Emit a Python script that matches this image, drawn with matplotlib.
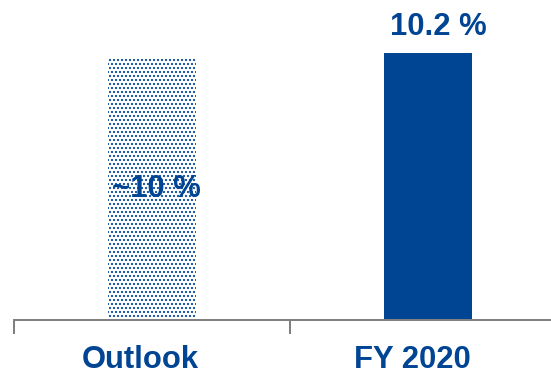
import matplotlib
matplotlib.use("Agg")
import matplotlib.pyplot as plt

# Data
categories = ["Outlook", "FY 2020"]
values = [10.0, 10.2]
value_labels = ["~10 %", "10.2 %"]

BLUE = "#004494"
GREY = "#808080"

plt.rcParams["font.family"] = ["Liberation Sans", "DejaVu Sans"]
plt.rcParams["hatch.linewidth"] = 1.4
plt.rcParams["hatch.color"] = BLUE

DPI = 72
W, H = 551, 378
fig = plt.figure(figsize=(W / DPI, H / DPI), dpi=DPI)
ax = fig.add_axes([14 / W, 58 / H, (W - 14) / W, 320 / H])

x = list(range(len(categories)))
bar_w = 0.32

# Outlook bar: dotted fill; FY 2020 bar: solid fill
ax.bar(x[0], values[0], width=bar_w, facecolor="white", edgecolor=BLUE,
       hatch="...", linewidth=0)
ax.bar(x[1], values[1], width=bar_w, color=BLUE, linewidth=0)

# Value labels
ax.annotate(value_labels[0], xy=(x[0], values[0] / 2), xytext=(4, -8),
            textcoords="offset points", ha="center", va="baseline",
            fontsize=31, fontweight="bold", color=BLUE)
ax.annotate(value_labels[1], xy=(x[1], values[1]), xytext=(10, 18),
            textcoords="offset points", ha="center", va="baseline",
            fontsize=31, fontweight="bold", color=BLUE)

# Axis styling
for side in ("left", "right", "top"):
    ax.spines[side].set_visible(False)
ax.spines["bottom"].set_color(GREY)
ax.spines["bottom"].set_linewidth(2)
ax.set_yticks([])

ax.set_xticks([x[0] - 0.043, x[1] - 0.058])
ax.set_xticklabels(categories, fontsize=31, fontweight="bold", color=BLUE)
ax.tick_params(axis="x", which="major", length=0, pad=25)
ax.set_xticks([-0.5, 0.5, 1.5], minor=True)
ax.tick_params(axis="x", which="minor", length=14, width=2, color=GREY,
               direction="out")

ax.set_xlim(-0.5, 1.446)
ax.set_ylim(0, 12.21)

fig.savefig("out.png", dpi=DPI)
